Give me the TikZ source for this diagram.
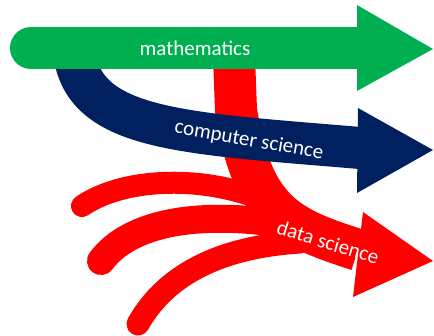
\documentclass[tikz,border=0pt]{standalone}
\usepackage{fontspec}
\setmainfont{Carlito}
\definecolor{mathgreen}{HTML}{00B050}
\definecolor{csnavy}{HTML}{002060}
\definecolor{dsred}{HTML}{FF0000}
\begin{document}
\begin{tikzpicture}[x=1pt,y=-1pt,
  redband/.style={draw=dsred, line cap=round, line join=round},
  lbl/.style={text=white, font=\fontsize{21}{21}\selectfont, inner sep=0pt, anchor=base}]
\useasboundingbox (0,0) rectangle (434,335);
% red: branches, stem, head
\draw[redband, line width=22pt] (82,206) .. controls (120,180) and (190,175) .. (250,195);
\draw[redband, line width=28pt] (101,261) .. controls (130,222) and (200,210) .. (290,225);
\draw[redband, line width=23pt] (138,324) .. controls (160,285) and (205,248) .. (300,242);
\draw[redband, line width=42pt, line cap=butt] (233,30) -- (236,110) .. controls (252,215) and (291,228) .. (358,250);
\fill[dsred] (363,212) -- (433,261) -- (353,297) -- cycle;
% navy
\draw[csnavy, line width=42pt] (73,40) .. controls (75,130) and (170,132) .. (360,148);
\fill[csnavy] (358,108) -- (433,150) -- (357,193) -- cycle;
% green
\draw[mathgreen, line width=42pt, line cap=round] (31,48) -- (360,48);
\fill[mathgreen] (357,5) -- (433,49) -- (357,91) -- cycle;
% labels
\node[lbl] (math) at (195,55) {mathematics};
\node[lbl, rotate=-10] (cs) at (248,146) {computer science};
\node[lbl, rotate=-17] (ds) at (326,249) {data science};
\end{tikzpicture}
\end{document}
